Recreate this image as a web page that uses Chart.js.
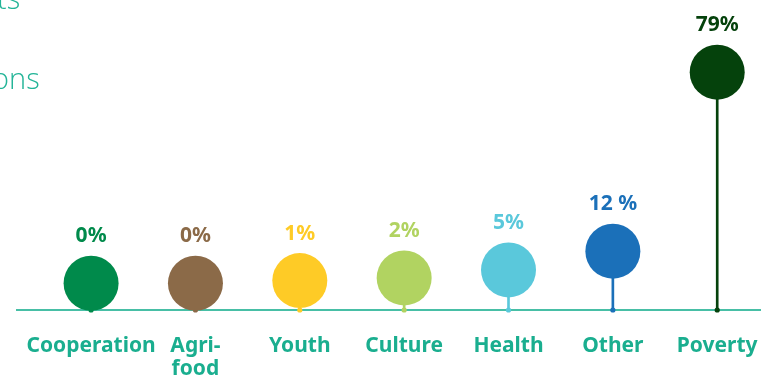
<!DOCTYPE html>
<html>
<head>
<meta charset="utf-8">
<script src="https://cdn.jsdelivr.net/npm/chart.js@4.4.1/dist/chart.umd.min.js"></script>
<style>
    body { margin: 0; background: #fff; }
    #wrap { position: relative; width: 771px; height: 380px; overflow: hidden; }
    .head { position: absolute; font-family: 'Open Sans', sans-serif; font-weight: 300; font-size: 29px; line-height: 1; color: #22b497; white-space: nowrap; }
</style>
</head>
<body>
<div id="wrap">
    <div class="head" style="left:-3px; top:-17px;">ts</div>
    <div class="head" style="left:-8px; top:63px;">ons</div>
    <canvas id="sectorChart"></canvas>
</div>
<script>
const categories = ['Cooperation', ['Agri-', 'food'], 'Youth', 'Culture', 'Health', 'Other', 'Poverty'];
const shares = [0, 0, 1, 2, 5, 12, 79];
const shareLabels = ['0%', '0%', '1%', '2%', '5%', '12 %', '79%'];
const colors = ['#008a4b', '#8b6a48', '#fecb26', '#b1d361', '#5ac8db', '#1b70b9', '#05420c'];

const Y_MIN = -10;
const Y_MAX = 106;
const teal = '#1aae8f';

document.addEventListener('DOMContentLoaded', function() {
    const ctx = document.getElementById('sectorChart');

    // percentage labels above each bubble
    const shareLabelPlugin = {
        id: 'shareLabels',
        afterDatasetsDraw(chart) {
            const meta = chart.getDatasetMeta(2);
            const c = chart.ctx;
            c.save();
            c.font = 'bold 21px "Noto Sans"';
            c.textAlign = 'center';
            c.textBaseline = 'middle';
            meta.data.forEach((pt, i) => {
                c.fillStyle = colors[i];
                c.fillText(shareLabels[i], pt.x, pt.y - 47);
            });
            c.restore();
        }
    };

    const points = shares.map((v, i) => ({ x: i, y: v }));

    new Chart(ctx, {
        data: {
            datasets: [
                {
                    type: 'bar',
                    data: points,
                    base: Y_MIN,
                    barThickness: 2,
                    backgroundColor: colors,
                    order: 3
                },
                {
                    type: 'scatter',
                    data: shares.map((v, i) => ({ x: i, y: Y_MIN })),
                    pointRadius: 2.6,
                    pointBackgroundColor: colors,
                    pointBorderWidth: 0,
                    clip: false,
                    order: 2
                },
                {
                    type: 'scatter',
                    data: points,
                    pointRadius: 27.5,
                    pointHoverRadius: 27.5,
                    pointBackgroundColor: colors,
                    pointBorderWidth: 0,
                    clip: false,
                    order: 1
                }
            ]
        },
        options: {
            responsive: true,
            maintainAspectRatio: false,
            animation: false,
            layout: { autoPadding: false, padding: { top: 0, left: 17, right: 11, bottom: 0 } },
            plugins: {
                legend: { display: false },
                tooltip: { enabled: false }
            },
            scales: {
                x: {
                    type: 'linear',
                    offset: false,
                    min: -0.71,
                    max: 6.41,
                    afterBuildTicks: scale => {
                        scale.ticks = categories.map((c, i) => ({ value: i }));
                    },
                    afterFit: scale => {
                        scale.height = 70;
                        scale.paddingLeft = 0;
                        scale.paddingRight = 0;
                    },
                    grid: { display: false, drawTicks: false, offset: false },
                    border: { display: true, color: '#47bfa6', width: 2 },
                    ticks: {
                        autoSkip: false,
                        maxRotation: 0,
                        padding: 24,
                        color: teal,
                        font: { family: 'Noto Sans', size: 21, weight: 'bold', lineHeight: 1.1 },
                        callback: value => categories[value]
                    }
                },
                y: {
                    display: false,
                    min: Y_MIN,
                    max: Y_MAX
                }
            }
        },
        plugins: [shareLabelPlugin]
    });
});
</script>
</body>
</html>
